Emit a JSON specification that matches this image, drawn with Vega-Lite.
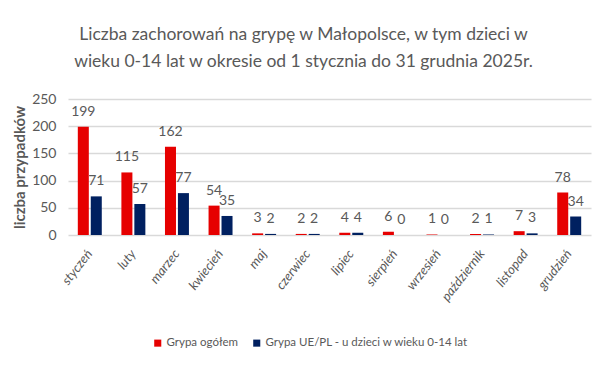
{
  "$schema": "https://vega.github.io/schema/vega-lite/v6.json",
  "width": 523,
  "height": 136,
  "autosize": {"type": "none"},
  "padding": {"left": 68, "top": 99, "right": 13, "bottom": 132},
  "background": "white",
  "title": {
    "text": ["Liczba zachorowań na grypę w Małopolsce, w tym dzieci w", "wieku 0-14 lat w okresie od 1 stycznia do 31 grudnia 2025r."],
    "anchor": "middle",
    "frame": "group",
    "dx": -26,
    "offset": 22,
    "font": "Lato",
    "fontSize": 17.5,
    "fontWeight": "normal",
    "color": "#595959",
    "lineHeight": 27
  },
  "data": {
    "values": [
      {"m": "styczeń", "s": "Grypa ogółem", "v": 199},
      {"m": "luty", "s": "Grypa ogółem", "v": 115},
      {"m": "marzec", "s": "Grypa ogółem", "v": 162},
      {"m": "kwiecień", "s": "Grypa ogółem", "v": 54},
      {"m": "maj", "s": "Grypa ogółem", "v": 3},
      {"m": "czerwiec", "s": "Grypa ogółem", "v": 2},
      {"m": "lipiec", "s": "Grypa ogółem", "v": 4},
      {"m": "sierpień", "s": "Grypa ogółem", "v": 6},
      {"m": "wrzesień", "s": "Grypa ogółem", "v": 1},
      {"m": "październik", "s": "Grypa ogółem", "v": 2},
      {"m": "listopad", "s": "Grypa ogółem", "v": 7},
      {"m": "grudzień", "s": "Grypa ogółem", "v": 78},
      {"m": "styczeń", "s": "Grypa UE/PL - u dzieci w wieku 0-14 lat", "v": 71},
      {"m": "luty", "s": "Grypa UE/PL - u dzieci w wieku 0-14 lat", "v": 57},
      {"m": "marzec", "s": "Grypa UE/PL - u dzieci w wieku 0-14 lat", "v": 77},
      {"m": "kwiecień", "s": "Grypa UE/PL - u dzieci w wieku 0-14 lat", "v": 35},
      {"m": "maj", "s": "Grypa UE/PL - u dzieci w wieku 0-14 lat", "v": 2},
      {"m": "czerwiec", "s": "Grypa UE/PL - u dzieci w wieku 0-14 lat", "v": 2},
      {"m": "lipiec", "s": "Grypa UE/PL - u dzieci w wieku 0-14 lat", "v": 4},
      {"m": "sierpień", "s": "Grypa UE/PL - u dzieci w wieku 0-14 lat", "v": 0},
      {"m": "wrzesień", "s": "Grypa UE/PL - u dzieci w wieku 0-14 lat", "v": 0},
      {"m": "październik", "s": "Grypa UE/PL - u dzieci w wieku 0-14 lat", "v": 1},
      {"m": "listopad", "s": "Grypa UE/PL - u dzieci w wieku 0-14 lat", "v": 3},
      {"m": "grudzień", "s": "Grypa UE/PL - u dzieci w wieku 0-14 lat", "v": 34}
    ]
  },
  "encoding": {
    "x": {
      "field": "m",
      "type": "nominal",
      "sort": null,
      "title": null,
      "scale": {"paddingInner": 0.45, "paddingOuter": 0.225},
      "axis": {
        "labelAngle": -52,
        "labelFont": "Lato",
        "labelFontStyle": "italic",
        "labelFontSize": 13,
        "labelColor": "#595959",
        "labelPadding": 16,
        "ticks": false,
        "domain": false,
        "grid": false
      }
    },
    "xOffset": {
      "field": "s",
      "type": "nominal",
      "sort": null,
      "scale": {"paddingInner": 0.15}
    },
    "y": {
      "field": "v",
      "type": "quantitative",
      "scale": {"domain": [0, 250]},
      "title": "liczba przypadków",
      "axis": {
        "values": [0, 50, 100, 150, 200, 250],
        "labelFont": "Lato",
        "labelFontSize": 14,
        "labelColor": "#595959",
        "labelPadding": 12,
        "ticks": false,
        "domain": false,
        "gridColor": "#D9D9D9",
        "gridWidth": 1.5,
        "titleFont": "Lato",
        "titleFontSize": 15,
        "titleFontWeight": "bold",
        "titleColor": "#595959",
        "titlePadding": 4
      }
    }
  },
  "layer": [
    {
      "mark": {"type": "bar"},
      "encoding": {
        "color": {
          "field": "s",
          "type": "nominal",
          "sort": null,
          "scale": {"range": ["#E60000", "#002060"]},
          "legend": {
            "title": null,
            "orient": "none",
            "direction": "horizontal",
            "legendX": 84,
            "legendY": 238,
            "symbolType": "square",
            "symbolSize": 50,
            "symbolStrokeWidth": 0,
            "labelFont": "Lato",
            "labelFontSize": 11.5,
            "labelColor": "#595959",
            "labelLimit": 0,
            "columnPadding": 12,
            "labelOffset": 3
          }
        }
      }
    },
    {
      "mark": {"type": "text", "baseline": "alphabetic", "dy": -11, "font": "Lato", "fontSize": 14, "color": "#595959"},
      "encoding": {"text": {"field": "v", "type": "quantitative"}}
    }
  ],
  "config": {"view": {"stroke": null}}
}
